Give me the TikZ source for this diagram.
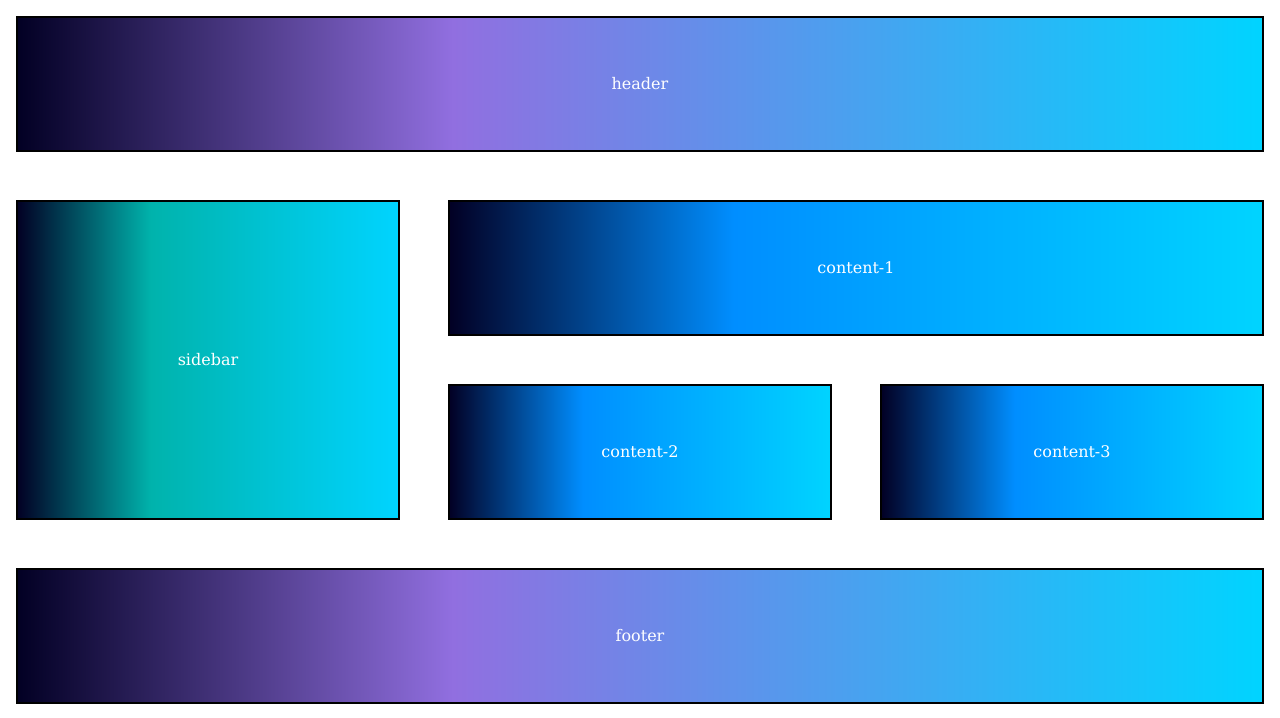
\documentclass[tikz,border=0pt]{standalone}
\usepackage{fontspec}
\setmainfont{DejaVu Serif}
\definecolor{cdark}{HTML}{020024}
\definecolor{cpurple}{HTML}{916FE0}
\definecolor{cteal}{HTML}{00B3AC}
\definecolor{cblue}{HTML}{008EFF}
\definecolor{ccyan}{HTML}{00D4FF}
\pgfdeclarehorizontalshading{gpurple}{100bp}{color(0bp)=(cdark); color(25bp)=(cdark); color(42.5bp)=(cpurple); color(75bp)=(ccyan); color(100bp)=(ccyan)}
\pgfdeclarehorizontalshading{gteal}{100bp}{color(0bp)=(cdark); color(25bp)=(cdark); color(42.5bp)=(cteal); color(75bp)=(ccyan); color(100bp)=(ccyan)}
\pgfdeclarehorizontalshading{gblue}{100bp}{color(0bp)=(cdark); color(25bp)=(cdark); color(42.5bp)=(cblue); color(75bp)=(ccyan); color(100bp)=(ccyan)}
\tikzset{
  panel/.style={draw=black, line width=1.5pt, rectangle, inner sep=0pt, outer sep=0pt,
    text=white, font=\fontsize{12pt}{14pt}\selectfont},
}
\begin{document}
\begin{tikzpicture}[x=0.75pt,y=-0.75pt]
\useasboundingbox (0,0) rectangle (1280,717);
\node[panel, shading=gpurple, minimum width=1246*0.75pt, minimum height=134*0.75pt] (header) at (640,84) {header};
\node[panel, shading=gteal, minimum width=382*0.75pt, minimum height=318*0.75pt] (sidebar) at (208,360) {sidebar};
\node[panel, shading=gblue, minimum width=814*0.75pt, minimum height=134*0.75pt] (content1) at (856,268) {content-1};
\node[panel, shading=gblue, minimum width=382*0.75pt, minimum height=134*0.75pt] (content2) at (640,452) {content-2};
\node[panel, shading=gblue, minimum width=382*0.75pt, minimum height=134*0.75pt] (content3) at (1072,452) {content-3};
\node[panel, shading=gpurple, minimum width=1246*0.75pt, minimum height=134*0.75pt] (footer) at (640,636) {footer};
\end{tikzpicture}
\end{document}
